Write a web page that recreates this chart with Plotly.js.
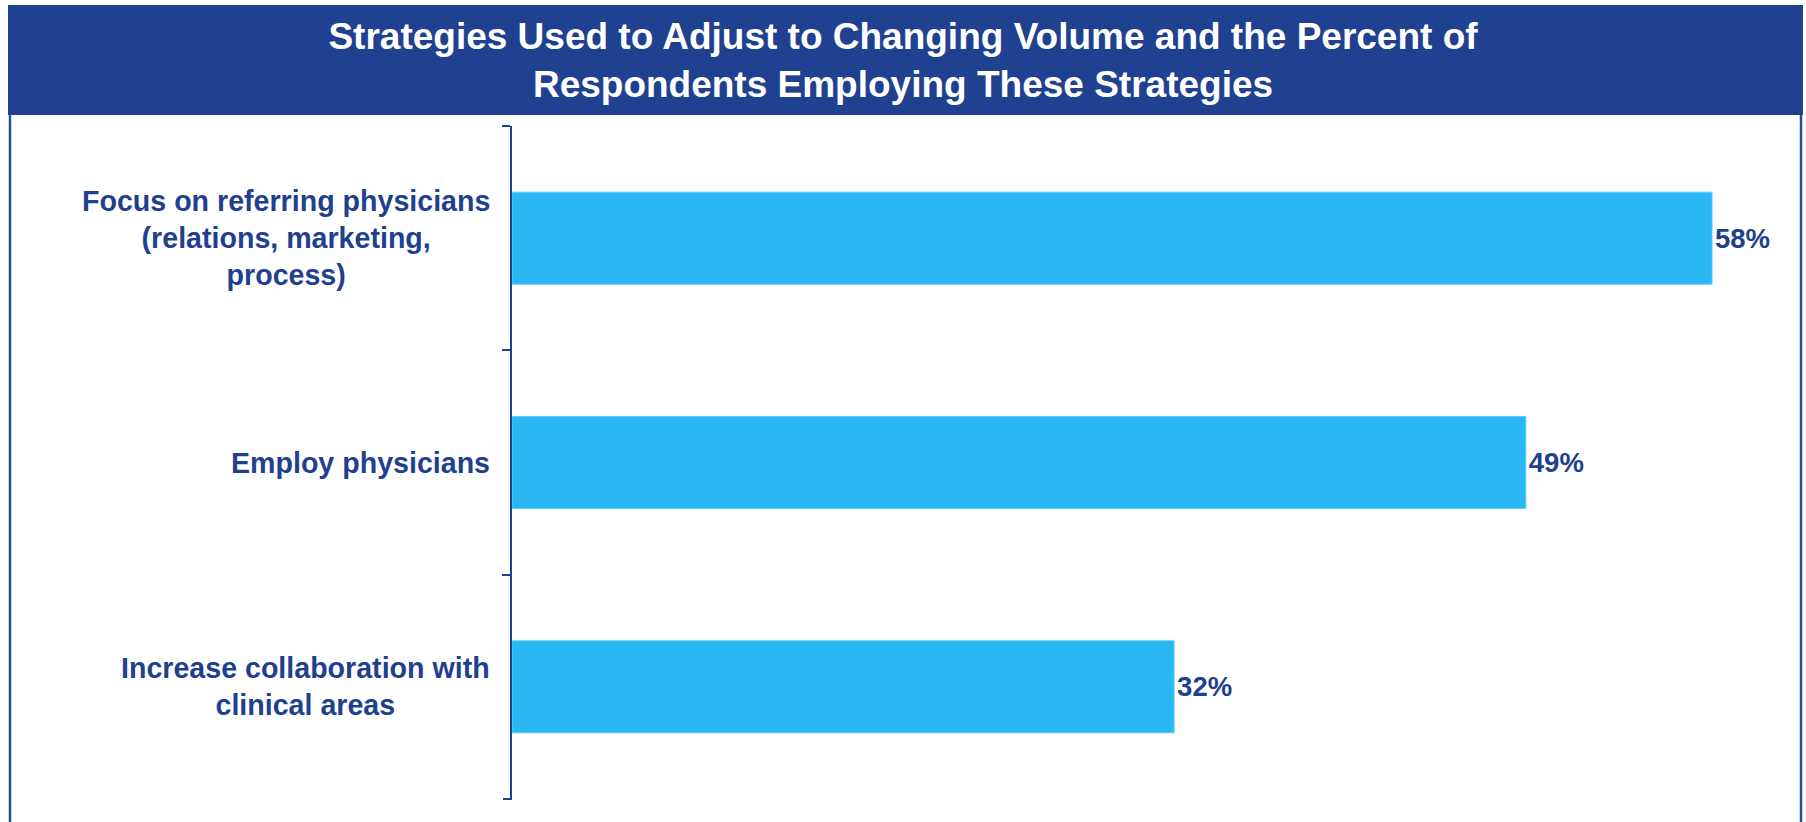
<!DOCTYPE html>
<html>
<head>
<meta charset="utf-8">
<script src="https://cdn.plot.ly/plotly-3.0.1.min.js"></script>
<style>
  html, body { margin: 0; padding: 0; background: #ffffff; }
  #chart { width: 1806px; height: 822px; }
</style>
</head>
<body>
<div id="chart"></div>
<script>
// ---- data ----
const categories = [
  "Focus on referring physicians<br>(relations, marketing,<br>process)",
  "Employ physicians",
  "Increase collaboration with<br>clinical areas"
];
const values = [58, 49, 32];
const valueLabels = ["58%", "49%", "32%"];
const titleText = "Strategies Used to Adjust to Changing Volume and the Percent of<br>Respondents Employing These Strategies";

// ---- layout helpers ----
const W = 1806, H = 822;
const M = { l: 512, r: 16, t: 126, b: 23 };
const plotW = W - M.l - M.r;
const plotH = H - M.t - M.b;
const px = x => (x - M.l) / plotW;
const py = y => (H - M.b - y) / plotH;

const darkBlue = "#1F4190";
const labelBlue = "#1F3F8F";
const barBlue = "#29B8F3";
const FONT = "Liberation Sans, Arial, sans-serif";

const trace = {
  type: "bar",
  orientation: "h",
  y: categories,
  x: values,
  text: valueLabels,
  textposition: "outside",
  cliponaxis: false,
  textfont: { family: FONT, size: 27.5, color: labelBlue, weight: "bold" },
  marker: { color: barBlue, line: { width: 1, color: "#5CCAF6" } },
  hoverinfo: "none"
};

const annotations = categories.map(c => ({
  xref: "paper", yref: "y",
  x: px(492), y: c,
  xanchor: "right", yanchor: "middle",
  align: "center",
  text: c,
  showarrow: false,
  font: { family: FONT, size: 28.6, color: labelBlue, weight: "bold" }
}));

const shapes = [
  // banner
  { type: "rect", xref: "paper", yref: "paper", layer: "below",
    x0: px(8), x1: px(1803), y0: py(115), y1: py(5),
    fillcolor: darkBlue, line: { width: 0 } },
  // frame left / right
  { type: "line", xref: "paper", yref: "paper",
    x0: px(10), x1: px(10), y0: py(115), y1: py(830),
    line: { color: "#2A4C9E", width: 2.5 } },
  { type: "line", xref: "paper", yref: "paper",
    x0: px(1801), x1: px(1801), y0: py(115), y1: py(830),
    line: { color: "#2A4C9E", width: 2.5 } },
  // closing tick at the bottom of the category axis
  { type: "line", xref: "paper", yref: "paper",
    x0: px(503), x1: px(512), y0: 0, y1: 0,
    line: { color: labelBlue, width: 2 } }
];

const layout = {
  width: W, height: H,
  margin: M,
  paper_bgcolor: "#ffffff",
  plot_bgcolor: "#ffffff",
  showlegend: false,
  bargap: 0.59,
  title: {
    text: titleText,
    font: { family: FONT, size: 37, color: "#ffffff", weight: "bold" },
    xref: "container", x: 0.5, xanchor: "center",
    yref: "container", y: 1 - 49 / H, yanchor: "middle"
  },
  xaxis: {
    range: [0, plotW / 20.69],
    visible: false,
    fixedrange: true
  },
  yaxis: {
    type: "category",
    range: [2.5, -0.5],
    showticklabels: false,
    showgrid: false,
    zeroline: false,
    showline: true,
    linecolor: labelBlue,
    linewidth: 2,
    ticks: "outside",
    tickson: "boundaries",
    ticklen: 8,
    tickwidth: 2,
    tickcolor: labelBlue,
    fixedrange: true
  },
  shapes: shapes,
  annotations: annotations
};

Plotly.newPlot("chart", [trace], layout, { displayModeBar: false, staticPlot: true });
</script>
</body>
</html>
